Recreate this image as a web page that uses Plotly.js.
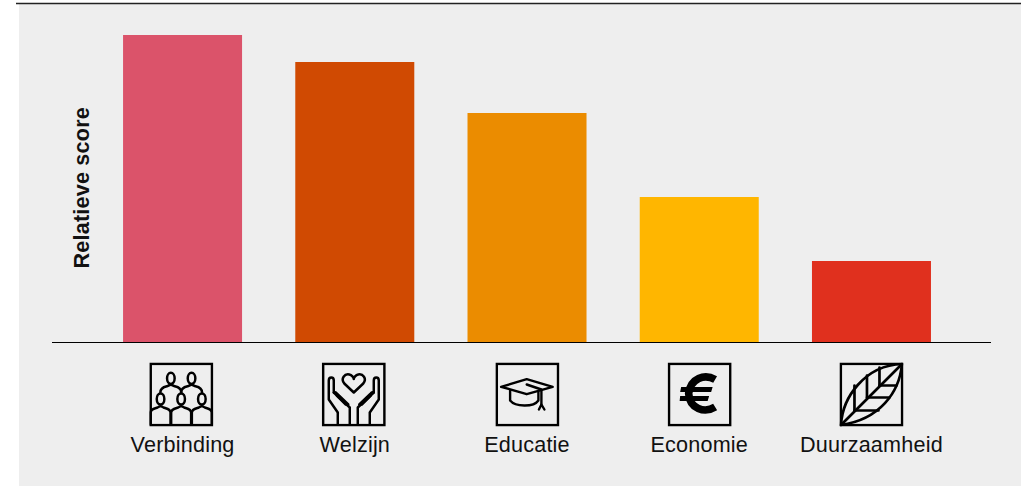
<!DOCTYPE html>
<html>
<head>
<meta charset="utf-8">
<script src="https://cdn.plot.ly/plotly-3.0.1.min.js"></script>
<style>
html,body{margin:0;padding:0;background:#fff;overflow:hidden}
#chart{width:1025px;height:486px}
.xtick text,.annotation-text{letter-spacing:0.2px}
</style>
</head>
<body>
<div id="chart"></div>
<script>
// Relative score per theme
const categories = ['Verbinding', 'Welzijn', 'Educatie', 'Economie', 'Duurzaamheid'];
const scores = [100, 91.2, 74.6, 47.2, 26.4];
const barColors = ['#DB536A', '#D04A02', '#EB8C00', '#FFB600', '#E0301E'];
const yTitle = 'Relatieve score';

// Frame geometry in pixels
const W = 1025, H = 486;
const plot = {l: 52, r: 991, t: 35, b: 342};
const panel = {l: 19, r: 1021, t: 4, b: 486};
const px = v => (v - plot.l) / (plot.r - plot.l);
const py = v => (plot.b - v) / (plot.b - plot.t);

// Theme pictograms, each in a 64x64 square frame
const frame = '<rect x="1.3" y="1.3" width="61.4" height="61.4" fill="none" stroke="#000" stroke-width="2.6"/>';
const g = (inner, sw) => `<g fill="none" stroke="#000" stroke-width="${sw}" stroke-linecap="round" stroke-linejoin="round">${inner}</g>`;

const upper = dx => `<ellipse cx="${21.5 + dx}" cy="15.8" rx="3.8" ry="5.6"/><path d="M${11 + dx} 30 C${11 + dx} 26 ${14 + dx} 24.6 ${17.5 + dx} 23.8 L${21.5 + dx} 22 L${25.5 + dx} 23.8 C${29 + dx} 24.6 ${32 + dx} 26 ${32 + dx} 30"/>`;
const lower = (cx) => `<ellipse cx="${cx}" cy="36.5" rx="3.8" ry="5.6"/><path d="M${cx - 10} 62 V50 C${cx - 10} 46.5 ${cx - 6} 46 ${cx - 3} 45 L${cx} 43.5 L${cx + 3} 45 C${cx + 6} 46 ${cx + 10} 46.5 ${cx + 10} 50 V62"/>`;
const people = g(upper(0) + upper(20.7) + lower(11.2) + lower(31.8) + lower(52.5), 2.5);

const hand = '<path d="M16 62 V50 L7 37 V18 C7 14 12 14 12 18 V30 L28 45 V62"/><path d="M15 33 L24 42"/><path d="M12 30 C14 29 14 30 15 31 L26.5 42"/>';
const hands = g('<path d="M32 30 L22.5 21 C18.5 16 23 11 27.5 12 C30 12.5 32 15 32 16.5 C32 15 34 12.5 36.5 12 C41 11 45.5 16 41.5 21 Z"/>' + hand + `<g transform="translate(64,0) scale(-1,1)">${hand}</g>`, 2.5);

const cap = g('<path d="M31.3 16.7 L57.3 24.3 L31.3 31.7 L5.7 24.3 Z"/><path d="M14.7 28 V38 C20 44.5 38 45 43 38 V29"/><path d="M31.3 22 L46 27 V42"/><path d="M46 42 L43.5 47 M46 42 L49 47"/>', 2.4);

const euro = '<path d="M47.5 17 C37 11 23 15.5 21 31 C22 46.5 37 51 47.5 44.5" fill="none" stroke="#000" stroke-width="7.6"/><path d="M13.5 24.5 H45 L43.5 29.5 H12.5 Z M12.5 33.5 H41.5 L40 38.5 H12 Z" fill="#000"/>';

const leaf = g('<path d="M1.5 62.5 C3 35 25 3 62.5 1.5 C60 30 40 57 1.5 62.5 Z"/><path d="M1.5 62.5 L62.5 1.5"/><path d="M15 48 V23 M27.5 35 V13 M40 23 V5"/><path d="M15 48 H39 M27.5 35 H50 M40 23 H57"/>', 2.7);

const icons = [people, hands, cap, euro, leaf];
const iconUri = body => 'data:image/svg+xml;charset=utf-8,' + encodeURIComponent(
  `<svg xmlns="http://www.w3.org/2000/svg" width="64" height="64" viewBox="0 0 64 64">${body}${frame}</svg>`);

const step = 172.25;
const iconSize = 64;
// Small horizontal corrections of the pictograms, in pixels
const iconNudge = [-1.2, -1, 0.4, 0.4, 0];
const images = categories.map((c, i) => ({
  source: iconUri(icons[i]),
  xref: 'x', yref: 'paper',
  x: i + iconNudge[i] / step, y: py(362.5),
  sizex: iconSize / step, sizey: iconSize / (plot.b - plot.t),
  xanchor: 'center', yanchor: 'top',
  sizing: 'stretch', layer: 'above'
}));

const trace = {
  type: 'bar',
  x: categories,
  y: scores,
  marker: {color: barColors, line: {width: 0}},
  hoverinfo: 'x+y'
};

const layout = {
  width: W, height: H,
  margin: {l: plot.l, r: W - plot.r, t: plot.t, b: H - plot.b, pad: 0},
  paper_bgcolor: '#ffffff',
  plot_bgcolor: 'rgba(0,0,0,0)',
  bargap: 0.309,
  showlegend: false,
  font: {family: '"Liberation Sans", Arial, sans-serif', color: '#111'},
  xaxis: {
    type: 'category',
    range: [-0.758, 4.694],
    showline: true, linecolor: '#000', linewidth: 1,
    showgrid: false, zeroline: false, ticks: '',
    tickfont: {size: 21.6, color: '#111'},
    ticklabelstandoff: 83,
    fixedrange: true
  },
  yaxis: {
    range: [0, 100],
    showgrid: false, zeroline: false, showline: false,
    showticklabels: false, ticks: '',
    fixedrange: true
  },
  shapes: [
    {type: 'rect', layer: 'below', xref: 'paper', yref: 'paper',
     x0: px(panel.l), x1: px(panel.r), y0: py(panel.b), y1: py(panel.t),
     fillcolor: '#EEEEEE', line: {width: 0}},
    {type: 'line', layer: 'above', xref: 'paper', yref: 'paper',
     x0: px(16), x1: px(panel.r), y0: py(3.5), y1: py(3.5),
     line: {color: '#222', width: 1.5}}
  ],
  annotations: [{
    text: '<b>' + yTitle + '</b>',
    xref: 'paper', yref: 'paper',
    x: px(81), y: 0.5,
    xanchor: 'center', yanchor: 'middle',
    textangle: -90, showarrow: false,
    font: {size: 21.6, color: '#111'}
  }],
  images: images
};

Plotly.newPlot('chart', [trace], layout, {displayModeBar: false});
</script>
</body>
</html>
